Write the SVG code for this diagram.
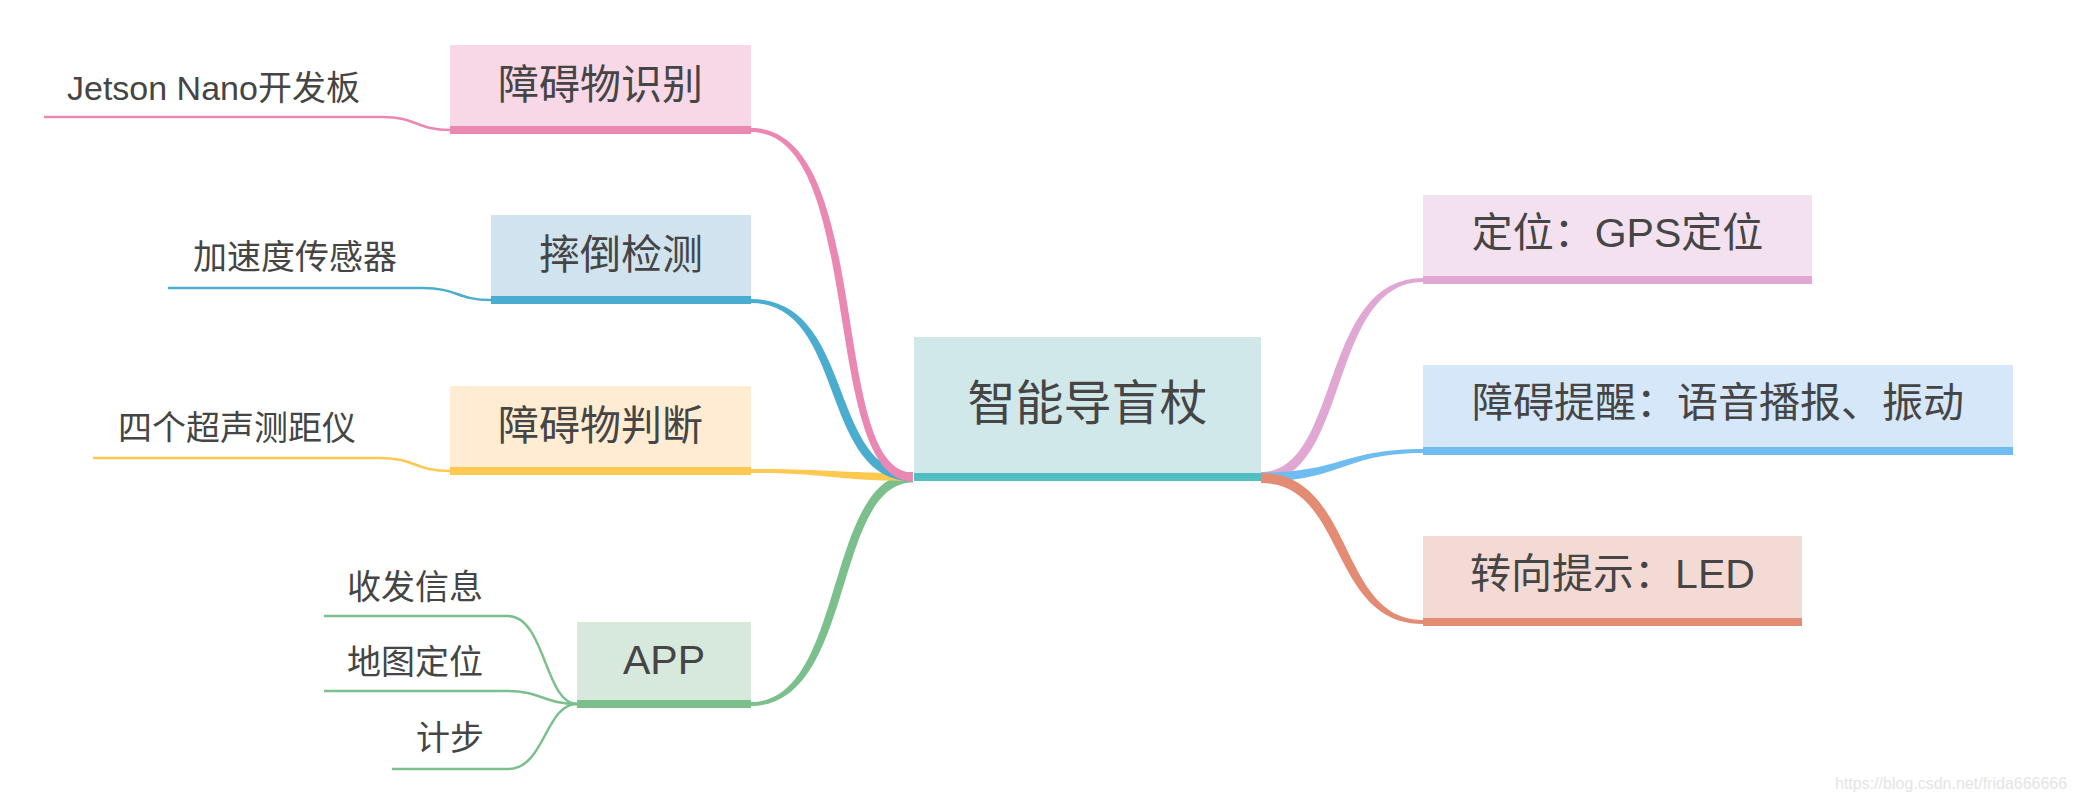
<svg xmlns="http://www.w3.org/2000/svg" width="2073" height="802" viewBox="0 0 2073 802">
<style>
text{font-family:"Liberation Sans","Noto Sans CJK SC",sans-serif;fill:#454545}
.main{font-size:41px;text-anchor:middle}
.center{font-size:48px;text-anchor:middle}
.child{font-size:34px}
.thin{fill:none;stroke-width:2.5}
.wm{font-size:16px;fill:#e4e4e4}
</style>
<rect width="2073" height="802" fill="#ffffff"/>
<g id="connectors">
  <path d="M751,702 C846.5,702 823.5,473.5 913,473.5 L913,482.5 C832.5,482.5 855.5,706 751,706 Z" fill="#7bbf8c"/>
  <path d="M751,469 C831,469 833,473 913,473 L913,481 C833,481 831,473 751,473 Z" fill="#ffc94f"/>
  <path d="M751,299 C855.5,299 827.5,472.5 913,472.5 L913,481.5 C818.5,481.5 846.5,303 751,303 Z" fill="#4aadd0"/>
  <path d="M751,128 C875.5,128 827.5,472.5 913,472.5 L913,481.5 C818.5,481.5 866.5,132 751,132 Z" fill="#ea87b3"/>
  <path d="M1261,472 C1341.5,472 1318.5,278 1423,278 L1423,282 C1327.5,282 1350.5,482 1261,482 Z" fill="#e0a7d3"/>
  <path d="M1261,472.5 C1341,472.5 1343,449 1423,449 L1423,453 C1343,453 1341,481.5 1261,481.5 Z" fill="#6fbdf0"/>
  <path d="M1261,473 C1355.5,473 1337.5,620 1423,620 L1423,624 C1328.5,624 1346.5,483 1261,483 Z" fill="#e38b73"/>
  <path class="thin" stroke="#ea87b3" d="M44,117 H383 C416,117 417,130 450,130"/>
  <path class="thin" stroke="#4aadd0" d="M168,288 H423 C457,288 457,300 491,300"/>
  <path class="thin" stroke="#ffc94f" d="M93,458 H380 C415,458 415,471 450,471"/>
  <path class="thin" stroke="#7bbf8c" d="M324,616 H508 C545,616 545,704 577,704"/>
  <path class="thin" stroke="#7bbf8c" d="M324,691 H508 C540,691 545,704 577,704"/>
  <path class="thin" stroke="#7bbf8c" d="M392,769 H508 C545,769 545,704 577,704"/>
</g>
<g id="node-center">
  <rect x="914" y="337" width="347" height="144" fill="#d1e8ea"/>
  <rect x="914" y="473" width="347" height="8" fill="#51bec1"/>
  <text class="center" x="1087.5" y="420">智能导盲杖</text>
</g>
<g id="node-obstacle-recognition">
  <rect x="450" y="45" width="301" height="89" fill="#f8d8e6"/>
  <rect x="450" y="126" width="301" height="8" fill="#ea87b3"/>
  <text class="main" x="600.5" y="99">障碍物识别</text>
</g>
<g id="node-jetson">
  <text class="child" x="67" y="100">Jetson Nano开发板</text>
</g>
<g id="node-fall-detection">
  <rect x="491" y="215" width="260" height="89" fill="#d0e3ef"/>
  <rect x="491" y="296" width="260" height="8" fill="#4aadd0"/>
  <text class="main" x="621" y="269">摔倒检测</text>
</g>
<g id="node-accelerometer">
  <text class="child" x="193" y="269">加速度传感器</text>
</g>
<g id="node-obstacle-judgement">
  <rect x="450" y="386" width="301" height="89" fill="#ffecd2"/>
  <rect x="450" y="467" width="301" height="8" fill="#ffc94f"/>
  <text class="main" x="600.5" y="440">障碍物判断</text>
</g>
<g id="node-ultrasonic">
  <text class="child" x="118" y="440">四个超声测距仪</text>
</g>
<g id="node-app">
  <rect x="577" y="622" width="174" height="86" fill="#d7e8dc"/>
  <rect x="577" y="700" width="174" height="8" fill="#7bbf8c"/>
  <text class="main" x="664" y="674">APP</text>
</g>
<g id="node-messages">
  <text class="child" x="347" y="599">收发信息</text>
</g>
<g id="node-map">
  <text class="child" x="347" y="674">地图定位</text>
</g>
<g id="node-steps">
  <text class="child" x="416" y="750">计步</text>
</g>
<g id="node-gps">
  <rect x="1423" y="195" width="389" height="89" fill="#f3e1f0"/>
  <rect x="1423" y="276" width="389" height="8" fill="#e0a7d3"/>
  <text class="main" x="1617.5" y="247">定位：GPS定位</text>
</g>
<g id="node-alert">
  <rect x="1423" y="365" width="590" height="90" fill="#d5e7f8"/>
  <rect x="1423" y="447" width="590" height="8" fill="#6fbdf0"/>
  <text class="main" x="1718" y="417">障碍提醒：语音播报、振动</text>
</g>
<g id="node-turn">
  <rect x="1423" y="536" width="379" height="90" fill="#f4dad5"/>
  <rect x="1423" y="618" width="379" height="8" fill="#e38b73"/>
  <text class="main" x="1612.5" y="588">转向提示：LED</text>
</g>
<text class="wm" x="1835" y="789">https://blog.csdn.net/frida666666</text>
</svg>
